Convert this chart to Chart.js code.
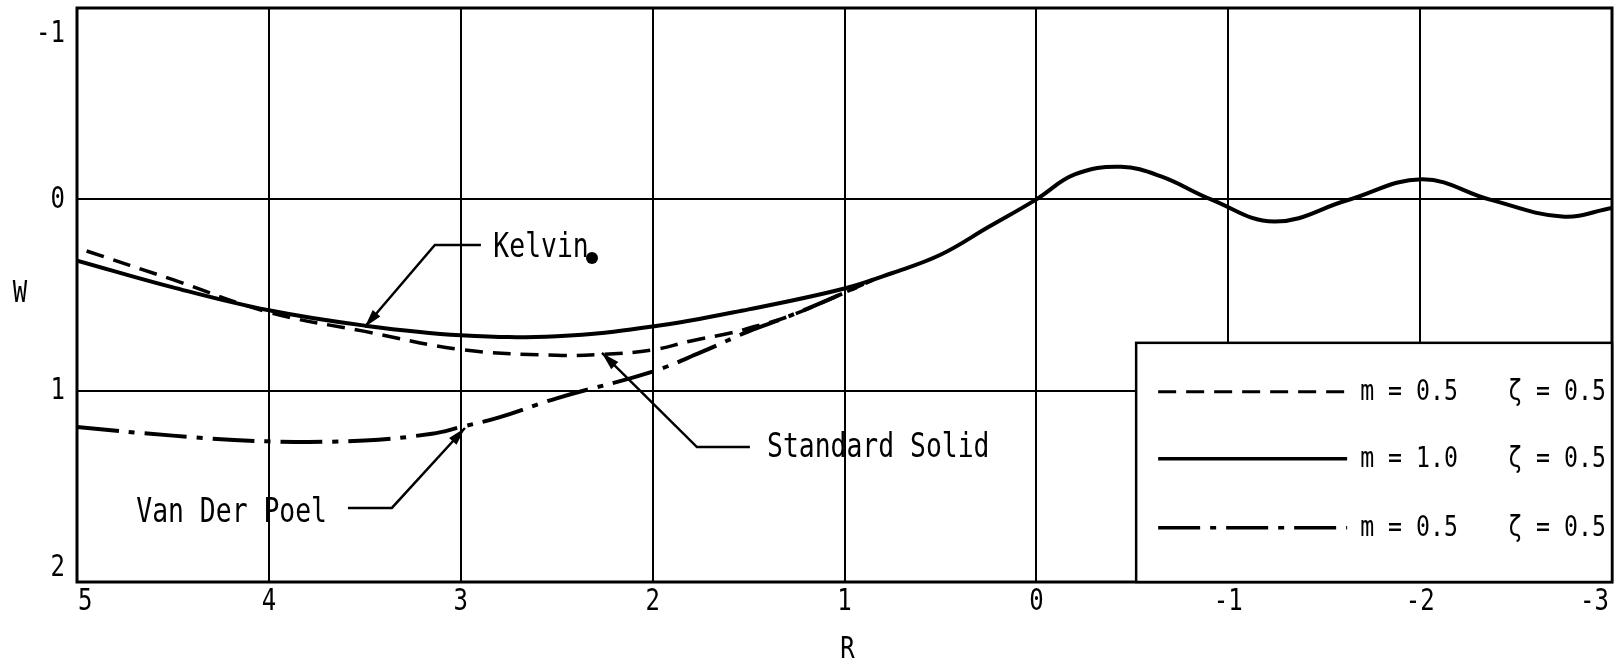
<!DOCTYPE html>
<html>
<head>
<meta charset="utf-8">
<script src="https://cdn.jsdelivr.net/npm/chart.js@4/dist/chart.umd.min.js"></script>
<style>
  body { margin: 0; background: #fff; }
  #wrap { width: 1615px; height: 665px; }
</style>
</head>
<body>
<div id="wrap"><canvas id="chart" width="1615" height="665"></canvas></div>
<script>
// axis ticks
var rTicks = [5, 4, 3, 2, 1, 0, -1, -2, -3]
var wTicks = [-1, 0, 1, 2]

// Kelvin, m = 1.0 (solid)
var kelvinR = [5, 4.5, 4, 3.5, 3, 2.5, 2, 1.5, 1, 0.75, 0.5, 0.25, 0, -0.2, -0.44, -0.65, -0.91, -1.24, -1.62, -2.01, -2.36, -2.74, -3.0]
var kelvinW = [0.32, 0.46, 0.58, 0.66, 0.71, 0.715, 0.665, 0.575, 0.466, 0.385, 0.29, 0.145, 0.0, -0.13, -0.17, -0.12, 0.0, 0.116, 0.005, -0.105, 0.0, 0.09, 0.045]

// Standard Solid, m = 0.5 (dashed)
var solidR = [4.95, 4.5, 4, 3.5, 3, 2.5, 2.25, 2, 1.8, 1.6, 1.5, 1.3, 1.05, 0.85]
var solidW = [0.27, 0.42, 0.59, 0.69, 0.785, 0.815, 0.81, 0.787, 0.74, 0.7, 0.674, 0.615, 0.51, 0.42]

// Van Der Poel, m = 0.5 (dash-dot)
var poelR = [5, 4.5, 4, 3.5, 3.15, 3, 2.8, 2.5, 2, 1.75, 1.5, 1.3, 1.05, 0.85]
var poelW = [1.19, 1.235, 1.265, 1.26, 1.225, 1.19, 1.14, 1.04, 0.90, 0.80, 0.69, 0.615, 0.51, 0.42]

// legend rows (top to bottom) and their texts
var legendOrder = [1, 0, 2]
var legendM = ['m = 0.5', 'm = 1.0', 'm = 0.5']
var legendZeta = ['\u03b6 = 0.5', '\u03b6 = 0.5', '\u03b6 = 0.5']

function pts(xs, ys) {
    return xs.map(function (x, i) { return { x: x, y: ys[i] } })
}

var FONT = '"DejaVu Sans Mono", monospace'

// draws condensed typewriter-like text
function txt(ctx, s, x, y, size, align) {
    ctx.save()
    ctx.font = size + 'px ' + FONT
    ctx.textBaseline = 'middle'
    ctx.textAlign = align || 'left'
    ctx.fillStyle = '#000'
    ctx.translate(x, y + 1)
    ctx.scale(0.8, 1)
    ctx.fillText(s, 0, 0)
    ctx.restore()
}

function arrow(ctx, x0, y0, x1, y1) {
    var a = Math.atan2(y1 - y0, x1 - x0)
    var len = 18, hw = 5
    ctx.beginPath()
    ctx.moveTo(x1, y1)
    ctx.lineTo(x1 - len * Math.cos(a) + hw * Math.sin(a), y1 - len * Math.sin(a) - hw * Math.cos(a))
    ctx.lineTo(x1 - len * Math.cos(a) - hw * Math.sin(a), y1 - len * Math.sin(a) + hw * Math.cos(a))
    ctx.closePath()
    ctx.fill()
}

// leader lines for the curve names: tip on the curve, elbow, end of horizontal, text anchor
var notes = [
    { text: 'Kelvin', tip: [3.50, 0.667], elbow: [3.135, 0.239], end: [2.895, 0.239], at: [2.83, 0.249], align: 'left' },
    { text: 'Standard Solid', tip: [2.264, 0.803], elbow: [1.769, 1.295], end: [1.493, 1.295], at: [1.404, 1.295], align: 'left' },
    { text: 'Van Der Poel', tip: [2.978, 1.195], elbow: [3.359, 1.613], end: [3.588, 1.613], at: [3.697, 1.635], align: 'right' }
]
var legendCorner = [-0.52, 0.75]

var decor = {
    id: 'decor',
    afterDatasetsDraw: function (chart) {
        var ctx = chart.ctx
        var xs = chart.scales.x, ys = chart.scales.y
        var a = chart.chartArea
        function px(p) { return [xs.getPixelForValue(p[0]), ys.getPixelForValue(p[1])] }

        ctx.save()
        ctx.strokeStyle = '#000'
        ctx.fillStyle = '#000'

        // frame
        ctx.lineWidth = 3
        ctx.strokeRect(a.left, a.top, a.right - a.left, a.bottom - a.top)

        // legend box
        var c = px(legendCorner)
        ctx.fillStyle = '#fff'
        ctx.fillRect(c[0], c[1], a.right - c[0], a.bottom - c[1])
        ctx.lineWidth = 2.5
        ctx.strokeRect(c[0], c[1], a.right - c[0], a.bottom - c[1])
        ctx.fillStyle = '#000'
        var rowY = [49, 116, 185]
        legendOrder.forEach(function (di, i) {
            var ds = chart.data.datasets[di]
            var y = c[1] + rowY[i]
            ctx.save()
            ctx.lineWidth = ds.borderWidth - 0.5
            ctx.setLineDash(ds.borderDash || [])
            ctx.beginPath()
            ctx.moveTo(c[0] + 22, y)
            ctx.lineTo(c[0] + 211, y)
            ctx.stroke()
            ctx.restore()
            txt(ctx, legendM[i], c[0] + 224, y, 29, 'left')
            txt(ctx, legendZeta[i], c[0] + 372, y, 29, 'left')
        })

        // curve names with arrows
        ctx.lineWidth = 2.5
        notes.forEach(function (n) {
            var t = px(n.tip), e = px(n.elbow), f = px(n.end), p = px(n.at)
            ctx.beginPath()
            ctx.moveTo(f[0], f[1])
            ctx.lineTo(e[0], e[1])
            ctx.lineTo(t[0], t[1])
            ctx.stroke()
            arrow(ctx, e[0], e[1], t[0], t[1])
            txt(ctx, n.text, p[0], p[1], 33, n.align)
        })

        // stray ink spot next to "Kelvin"
        var d = px([2.316, 0.307])
        ctx.beginPath()
        ctx.arc(d[0], d[1], 6, 0, Math.PI * 2)
        ctx.fill()

        // tick labels
        wTicks.forEach(function (v) {
            var y = Math.min(Math.max(ys.getPixelForValue(v), a.top + 25), a.bottom - 15)
            txt(ctx, String(v), a.left - 12, y, 30, 'right')
        })
        rTicks.forEach(function (v, i) {
            var x = xs.getPixelForValue(v), align = 'center'
            if (i == 0) { x = a.left + 1; align = 'left' }
            if (i == rTicks.length - 1) { x = a.right - 3; align = 'right' }
            txt(ctx, String(v), x, a.bottom + 19, 30, align)
        })

        // axis titles
        txt(ctx, 'W', 20, ys.getPixelForValue(0.49), 30, 'center')
        txt(ctx, 'R', (a.left + a.right) / 2 + 3, a.bottom + 67, 30, 'center')
        ctx.restore()
    }
}

new Chart('chart', {
    type: 'line',
    data: {
        datasets: [{
            label: 'Kelvin',
            data: pts(kelvinR, kelvinW),
            borderColor: '#000',
            borderWidth: 4,
            pointRadius: 0,
            tension: 0.4
        }, {
            label: 'Standard Solid',
            data: pts(solidR, solidW),
            borderColor: '#000',
            borderWidth: 3.5,
            borderDash: [18, 10],
            pointRadius: 0,
            tension: 0.4
        }, {
            label: 'Van Der Poel',
            data: pts(poelR, poelW),
            borderColor: '#000',
            borderWidth: 4,
            borderDash: [42, 10, 6, 10],
            pointRadius: 0,
            tension: 0.4
        }]
    },
    options: {
        responsive: false,
        animation: false,
        devicePixelRatio: 1,
        layout: { padding: { left: 77, right: 3, top: 8, bottom: 83 } },
        plugins: {
            legend: { display: false },
            tooltip: { enabled: false }
        },
        scales: {
            x: {
                type: 'linear',
                reverse: true,
                min: -3,
                max: 5,
                ticks: { display: false, stepSize: 1 },
                grid: { color: '#000', lineWidth: 2, drawTicks: false },
                border: { display: false }
            },
            y: {
                type: 'linear',
                reverse: true,
                min: -1,
                max: 2,
                ticks: { display: false, stepSize: 1 },
                grid: { color: '#000', lineWidth: 2, drawTicks: false },
                border: { display: false }
            }
        }
    },
    plugins: [decor]
})
</script>
</body>
</html>
